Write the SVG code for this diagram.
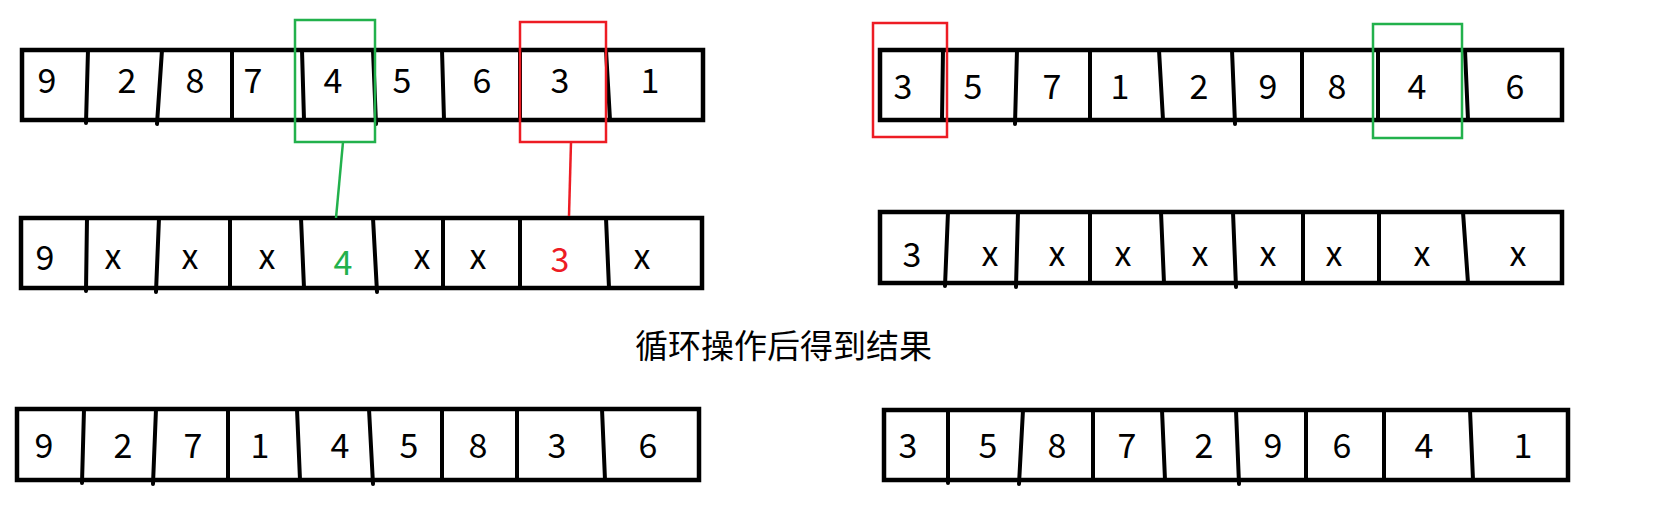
<svg xmlns="http://www.w3.org/2000/svg" width="1662" height="529" viewBox="0 0 1662 529">
<style>
.frame{fill:#fff;stroke:#000;stroke-width:4.5}
.div{stroke:#000;stroke-width:4;stroke-linecap:round;fill:none}
.t{font-family:"Noto Sans CJK SC","Noto Sans",sans-serif;font-size:34px;fill:#000;text-anchor:middle}
.cap{font-family:"Noto Sans CJK SC",sans-serif;font-size:33px;fill:#000}
.g{fill:none;stroke:#22b14c;stroke-width:2.5}
.r{fill:none;stroke:#ed1c24;stroke-width:2.5}
.gt{fill:#22b14c}
.rt{fill:#ed1c24}
</style>
<rect width="1662" height="529" fill="#fff"/>

<g id="array-top-left">
<rect class="frame" x="22" y="50" width="681" height="70"/>
<path class="div" d="M88 50L86 123M162 50L157 124M232 50L232 120M302 50L304 120M373 50L376 124M442 50L444 120M520 50L520 120M606 50L610 120"/>
<text class="t" x="47" y="93">9</text><text class="t" x="127" y="93">2</text><text class="t" x="195" y="93">8</text><text class="t" x="253" y="93">7</text><text class="t" x="333" y="93">4</text><text class="t" x="402" y="93">5</text><text class="t" x="482" y="93">6</text><text class="t" x="560" y="93">3</text><text class="t" x="650" y="93">1</text>
</g>

<g id="array-mid-left">
<rect class="frame" x="21" y="218" width="681" height="70"/>
<path class="div" d="M87 218L86 291M159 218L156 292M230 218L230 288M301 218L304 288M373 218L377 292M443 218L443 288M520 218L520 288M606 218L609 288"/>
<text class="t" x="45" y="270">9</text><text class="t" x="113" y="269">x</text><text class="t" x="190" y="269">x</text><text class="t" x="267" y="269">x</text><text class="t gt" x="343" y="275">4</text><text class="t" x="422" y="269">x</text><text class="t" x="478" y="269">x</text><text class="t rt" x="560" y="272">3</text><text class="t" x="642" y="269">x</text>
</g>

<g id="array-top-right">
<rect class="frame" x="880" y="50" width="682" height="70"/>
<path class="div" d="M943 50L942 120M1017 50L1015 124M1090 50L1090 120M1159 50L1163 120M1232 50L1235 124M1302 50L1302 120M1378 50L1378 120M1465 50L1468 120"/>
<text class="t" x="903" y="99">3</text><text class="t" x="973" y="99">5</text><text class="t" x="1052" y="99">7</text><text class="t" x="1120" y="99">1</text><text class="t" x="1199" y="99">2</text><text class="t" x="1268" y="99">9</text><text class="t" x="1337" y="99">8</text><text class="t" x="1417" y="99">4</text><text class="t" x="1515" y="99">6</text>
</g>

<g id="array-mid-right">
<rect class="frame" x="880" y="212" width="682" height="71"/>
<path class="div" d="M948 212L945 286M1018 212L1016 287M1090 212L1090 283M1161 212L1164 283M1233 212L1236 287M1303 212L1303 283M1379 212L1379 283M1463 212L1468 283"/>
<text class="t" x="912" y="267">3</text><text class="t" x="990" y="266">x</text><text class="t" x="1057" y="266">x</text><text class="t" x="1123" y="266">x</text><text class="t" x="1200" y="266">x</text><text class="t" x="1268" y="266">x</text><text class="t" x="1334" y="266">x</text><text class="t" x="1422" y="266">x</text><text class="t" x="1518" y="266">x</text>
</g>

<g id="caption">
<text class="cap" x="635" y="358">循环操作后得到结果</text>
</g>

<g id="array-bottom-left">
<rect class="frame" x="17" y="409" width="682" height="71"/>
<path class="div" d="M84 409L82 483M156 409L153 484M228 409L228 480M297 409L300 480M369 409L373 484M442 409L442 480M517 409L517 480M602 409L605 480"/>
<text class="t" x="44" y="458">9</text><text class="t" x="123" y="458">2</text><text class="t" x="193" y="458">7</text><text class="t" x="260" y="458">1</text><text class="t" x="340" y="458">4</text><text class="t" x="409" y="458">5</text><text class="t" x="478" y="458">8</text><text class="t" x="557" y="458">3</text><text class="t" x="648" y="458">6</text>
</g>

<g id="array-bottom-right">
<rect class="frame" x="884" y="410" width="684" height="70"/>
<path class="div" d="M948 410L948 483M1023 410L1019 484M1093 410L1093 480M1162 410L1165 480M1236 410L1239 484M1306 410L1306 480M1384 410L1384 480M1470 410L1473 480"/>
<text class="t" x="908" y="458">3</text><text class="t" x="988" y="458">5</text><text class="t" x="1057" y="458">8</text><text class="t" x="1127" y="458">7</text><text class="t" x="1204" y="458">2</text><text class="t" x="1273" y="458">9</text><text class="t" x="1342" y="458">6</text><text class="t" x="1424" y="458">4</text><text class="t" x="1523" y="458">1</text>
</g>

<g id="highlight-green-left"><rect class="g" x="295" y="20" width="80" height="122"/></g>
<g id="highlight-red-left"><rect class="r" x="520" y="22" width="86" height="120"/></g>
<g id="highlight-red-right"><rect class="r" x="873" y="23" width="74" height="114"/></g>
<g id="highlight-green-right"><rect class="g" x="1373" y="24" width="89" height="114"/></g>

<g id="connectors">
<line x1="343" y1="142" x2="336" y2="218" stroke="#22b14c" stroke-width="2.5"/>
<line x1="571" y1="142" x2="569" y2="216" stroke="#ed1c24" stroke-width="2.5"/>
</g>
</svg>
